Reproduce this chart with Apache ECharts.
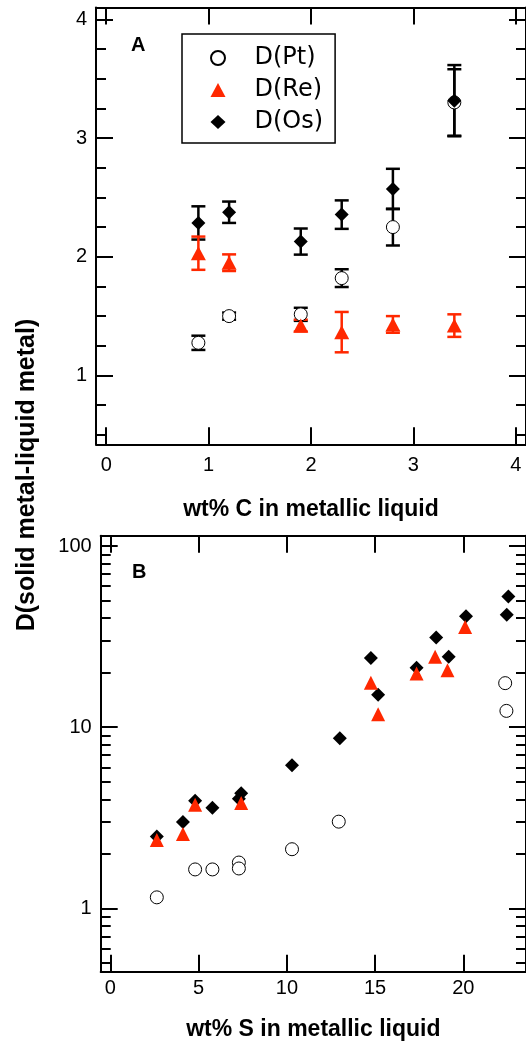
<!DOCTYPE html>
<html>
<head>
<meta charset="utf-8">
<script src="https://cdn.jsdelivr.net/npm/echarts@6/dist/echarts.min.js"></script>
<style>
html, body { margin: 0; padding: 0; background: #fff; }
#chart { width: 526px; height: 1048px; }
</style>
</head>
<body>
<div id="chart"></div>
<script>
// panel A : wt% C
var carbon = [0.9, 1.2, 1.9, 2.3, 2.8, 3.4];
var ptA = [1.275, 1.50, 1.515, 1.82, 2.25, 3.30];
var ptErrA = [0.06, 0.03, 0.055, 0.075, 0.155, 0.28];
var reA = [2.03, 1.95, 1.42, 1.365, 1.43, 1.42];
var reErrA = [0.14, 0.07, 0.05, 0.17, 0.07, 0.095];
var osA = [2.285, 2.375, 2.128, 2.355, 2.571, 3.315];
var osErrA = [0.14, 0.09, 0.11, 0.12, 0.17, 0.30];

// panel B : wt% S
var sulfurPt = [2.63, 4.8, 5.78, 7.28, 7.28, 10.29, 12.94, 22.37, 22.44];
var ptB = [1.15, 1.64, 1.64, 1.79, 1.66, 2.12, 3.01, 17.5, 12.3];
var sulfurRe = [2.63, 4.11, 4.8, 7.41, 14.76, 15.17, 17.35, 18.4, 19.1, 20.1];
var reB = [2.38, 2.57, 3.73, 3.82, 17.6, 11.8, 19.8, 24.5, 20.6, 35.7];
var sulfurOs = [2.63, 4.11, 4.8, 5.78, 7.28, 7.41, 10.29, 13.0, 14.76, 15.17, 17.35, 18.46, 19.17, 20.15, 22.46, 22.55];
var osB = [2.49, 3.0, 3.93, 3.59, 4.03, 4.32, 6.17, 8.69, 24.1, 15.1, 21.3, 31.3, 24.5, 40.9, 41.7, 52.7];

// ticks
var ticksXA = [0, 1, 2, 3, 4];
var ticksYA = [1, 2, 3, 4];
var minorYA = [0.5, 0.75, 1.25, 1.5, 1.75, 2.25, 2.5, 2.75, 3.25, 3.5, 3.75];
var ticksXB = [0, 5, 10, 15, 20];
var ticksYB = [1, 10, 100];
var minorYB = [0.5, 0.6, 0.7, 0.8, 0.9, 2, 3, 4, 5, 6, 7, 8, 9, 20, 30, 40, 50, 60, 70, 80, 90];

var names = ['D(Pt)', 'D(Re)', 'D(Os)'];
var RED = '#ff2800';

function zip(xs, ys, es) {
	var out = [];
	for (var i = 0; i < xs.length; i++) {
		out.push(es ? [xs[i], ys[i], es[i]] : [xs[i], ys[i]]);
	}
	return out;
}

function renderBar(params, api) {
	var x = api.value(0), y = api.value(1), e = api.value(2);
	var top = api.coord([x, y + e]);
	var bot = api.coord([x, y - e]);
	var c = api.visual('color');
	var st = { stroke: c, lineWidth: 2.5 };
	var hw = 7;
	return {
		type: 'group',
		children: [
			{ type: 'line', shape: { x1: top[0], y1: top[1], x2: bot[0], y2: bot[1] }, style: st },
			{ type: 'line', shape: { x1: top[0] - hw, y1: top[1], x2: top[0] + hw, y2: top[1] }, style: st },
			{ type: 'line', shape: { x1: bot[0] - hw, y1: bot[1], x2: bot[0] + hw, y2: bot[1] }, style: st }
		]
	};
}

var lineSt = { color: '#000', width: 2 };

function xAx(grid, min, max, ticks, pos, labelMargin, name, nameGap) {
	var ax = {
		type: 'value', gridIndex: grid, min: min, max: max, position: pos,
		axisLine: { show: true, onZero: false, lineStyle: lineSt },
		axisTick: { show: true, inside: true, length: 17, customValues: ticks, lineStyle: lineSt },
		axisLabel: { show: pos == 'bottom', customValues: ticks, margin: labelMargin,
			color: '#000', fontFamily: 'Liberation Sans', fontSize: 20 },
		splitLine: { show: false }
	};
	if (name) {
		ax.name = name;
		ax.nameLocation = 'middle';
		ax.nameGap = nameGap;
		ax.nameTextStyle = { color: '#000', fontFamily: 'Liberation Sans', fontWeight: 'bold', fontSize: 23 };
	}
	return ax;
}

function yAx(grid, type, min, max, ticks, pos, len, labels, line) {
	return {
		type: type, gridIndex: grid, min: min, max: max, position: pos, logBase: 10,
		axisLine: { show: line, onZero: false, lineStyle: lineSt },
		axisTick: { show: true, inside: true, length: len, customValues: ticks, lineStyle: lineSt },
		axisLabel: { show: labels, customValues: ticks, margin: 9,
			color: '#000', fontFamily: 'Liberation Sans', fontSize: 20 },
		splitLine: { show: false }
	};
}

var myChart = echarts.init(document.getElementById('chart'));

var option = {
	animation: false,
	backgroundColor: '#fff',
	grid: [
		{ left: 96, top: 7.5, width: 432.6, height: 436.8 },
		{ left: 100.7, top: 535.7, width: 427.8, height: 436 }
	],
	xAxis: [
		xAx(0, -0.1, 4.1, ticksXA, 'bottom', 11, 'wt% C in metallic liquid', 54),
		xAx(0, -0.1, 4.1, ticksXA, 'top', 11),
		xAx(1, -0.55, 23.55, ticksXB, 'bottom', 7, 'wt% S in metallic liquid', 46),
		xAx(1, -0.55, 23.55, ticksXB, 'top', 7)
	],
	yAxis: [
		yAx(0, 'value', 0.42, 4.1, ticksYA, 'left', 17, true, true),
		yAx(0, 'value', 0.42, 4.1, minorYA, 'left', 10, false, false),
		yAx(0, 'value', 0.42, 4.1, ticksYA, 'right', 17, false, true),
		yAx(0, 'value', 0.42, 4.1, minorYA, 'right', 10, false, false),
		yAx(1, 'log', 0.447, 114, ticksYB, 'left', 17, true, true),
		yAx(1, 'log', 0.447, 114, minorYB, 'left', 10, false, false),
		yAx(1, 'log', 0.447, 114, ticksYB, 'right', 17, false, true),
		yAx(1, 'log', 0.447, 114, minorYB, 'right', 10, false, false)
	],
	legend: {
		orient: 'vertical', left: 182, top: 34,
		data: names, selectedMode: false,
		itemWidth: 15, itemHeight: 14, itemGap: 8,
		symbolKeepAspect: true,
		padding: [12, 12, 9, 28],
		borderColor: '#000', borderWidth: 1.5,
		textStyle: { color: '#000', fontFamily: 'DejaVu Sans', fontSize: 24, lineHeight: 24, padding: [0, 0, 0, 24] }
	},
	graphic: [
		{ type: 'text', left: 131, top: 35, style: { text: 'A', font: 'bold 20px "Liberation Sans"', fill: '#000' } },
		{ type: 'text', left: 132, top: 562, style: { text: 'B', font: 'bold 20px "Liberation Sans"', fill: '#000' } },
		{ type: 'text', x: 27.5, y: 475, rotation: Math.PI / 2,
			style: { text: 'D(solid metal-liquid metal)', font: 'bold 25px "Liberation Sans"', fill: '#000', align: 'center', verticalAlign: 'middle' } }
	],
	series: [
		// panel A error bars
		{ type: 'custom', xAxisIndex: 0, yAxisIndex: 0, renderItem: renderBar, itemStyle: { color: '#000' }, data: zip(carbon, ptA, ptErrA), z: 1 },
		{ type: 'custom', xAxisIndex: 0, yAxisIndex: 0, renderItem: renderBar, itemStyle: { color: '#000' }, data: zip(carbon, osA, osErrA), z: 1 },
		{ type: 'custom', xAxisIndex: 0, yAxisIndex: 0, renderItem: renderBar, itemStyle: { color: RED }, data: zip(carbon, reA, reErrA), z: 1 },
		// panel A points
		{ name: 'D(Pt)', type: 'scatter', xAxisIndex: 0, yAxisIndex: 0, symbol: 'circle', symbolSize: 13,
			itemStyle: { color: '#fff', borderColor: '#000', borderWidth: 1, opacity: 1 }, data: zip(carbon, ptA), z: 2 },
		{ name: 'D(Os)', type: 'scatter', xAxisIndex: 0, yAxisIndex: 0, symbol: 'diamond', symbolSize: 14,
			itemStyle: { color: '#000', opacity: 1 }, data: zip(carbon, osA), z: 3 },
		{ name: 'D(Re)', type: 'scatter', xAxisIndex: 0, yAxisIndex: 0, symbol: 'triangle', symbolSize: [15, 14],
			itemStyle: { color: RED, opacity: 1 }, data: zip(carbon, reA), z: 4 },
		// panel B points
		{ name: 'D(Pt)', type: 'scatter', xAxisIndex: 2, yAxisIndex: 4, symbol: 'circle', symbolSize: 13,
			itemStyle: { color: '#fff', borderColor: '#000', borderWidth: 1, opacity: 1 }, data: zip(sulfurPt, ptB), z: 2 },
		{ name: 'D(Os)', type: 'scatter', xAxisIndex: 2, yAxisIndex: 4, symbol: 'diamond', symbolSize: 14,
			itemStyle: { color: '#000', opacity: 1 }, data: zip(sulfurOs, osB), z: 3 },
		{ name: 'D(Re)', type: 'scatter', xAxisIndex: 2, yAxisIndex: 4, symbol: 'triangle', symbolSize: [14, 14],
			itemStyle: { color: RED, opacity: 1 }, data: zip(sulfurRe, reB), z: 4 }
	]
};
myChart.setOption(option);
</script>
</body>
</html>
